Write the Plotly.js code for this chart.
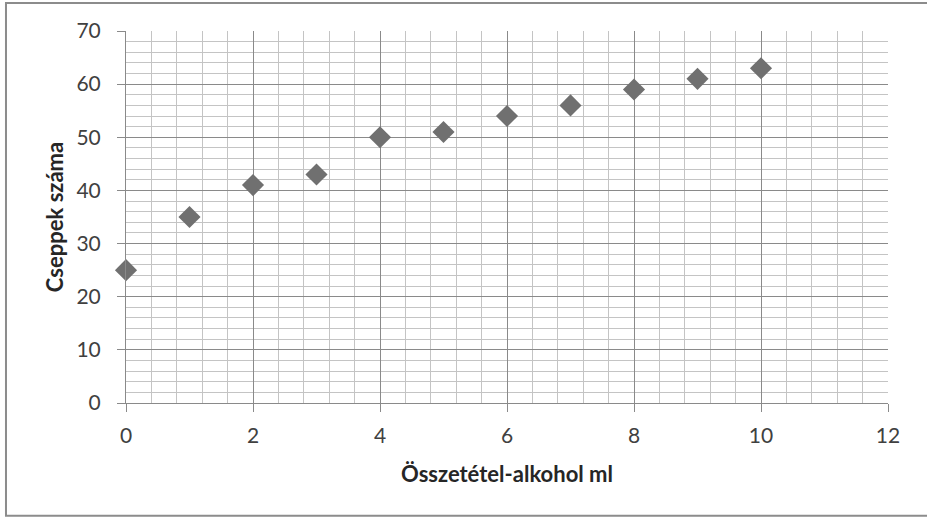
<!DOCTYPE html>
<html>
<head>
<meta charset="utf-8">
<script src="https://cdn.plot.ly/plotly-3.0.1.min.js"></script>
<style>
html,body{margin:0;padding:0;background:#fff;}
#chart{width:927px;height:518px;}
</style>
</head>
<body>
<div id="chart"></div>
<script>
const alcoholMl = [0, 1, 2, 3, 4, 5, 6, 7, 8, 9, 10];
const dropCount = [25, 35, 41, 43, 50, 51, 54, 56, 59, 61, 63];
const xTitle = 'Összetétel-alkohol ml';
const yTitle = 'Cseppek száma';

const font = 'Lato, "Open Sans", sans-serif';

const trace = {
  x: alcoholMl,
  y: dropCount,
  type: 'scatter',
  mode: 'markers',
  marker: {symbol: 'diamond', size: 17, color: '#707070'},
  cliponaxis: false,
  hoverinfo: 'x+y'
};

const layout = {
  width: 927, height: 518,
  margin: {l: 126, r: 39, t: 31, b: 115},
  paper_bgcolor: '#fff', plot_bgcolor: '#fff',
  showlegend: false,
  font: {family: font, size: 17, color: '#404040'},
  xaxis: {
    range: [0, 12], dtick: 2, tick0: 0,
    showgrid: true, gridcolor: '#8a8a8a', gridwidth: 1,
    minor: {dtick: 0.4, showgrid: true, gridcolor: '#c4c4c4', gridwidth: 1},
    showline: true, linecolor: '#8a8a8a', linewidth: 1,
    ticks: 'outside', ticklen: 8, tickcolor: '#8a8a8a',
    ticklabelstandoff: 6,
    zeroline: false,
    tickfont: {family: font, size: 21, color: '#404040'},
    title: {text: xTitle, standoff: 20, font: {family: font, size: 22, color: '#262626', weight: 'bold'}},
    fixedrange: true
  },
  yaxis: {
    range: [0, 70], dtick: 10, tick0: 0,
    showgrid: true, gridcolor: '#8a8a8a', gridwidth: 1,
    minor: {dtick: 2, showgrid: true, gridcolor: '#c4c4c4', gridwidth: 1},
    showline: true, linecolor: '#8a8a8a', linewidth: 1,
    ticks: 'outside', ticklen: 8, tickcolor: '#8a8a8a',
    ticklabelstandoff: 12,
    zeroline: false,
    tickfont: {family: font, size: 21, color: '#404040'},
    title: {text: yTitle, standoff: 6, font: {family: font, size: 22, color: '#262626', weight: 'bold'}},
    fixedrange: true
  },
  shapes: [{
    type: 'rect', xref: 'paper', yref: 'paper',
    x0: -0.1575, x1: 1.06, y0: -0.3030, y1: 1.0753,
    line: {color: '#8c8c8c', width: 2}, fillcolor: 'rgba(0,0,0,0)', layer: 'below'
  }]
};

Plotly.newPlot('chart', [trace], layout, {displayModeBar: false, staticPlot: true});
</script>
</body>
</html>
